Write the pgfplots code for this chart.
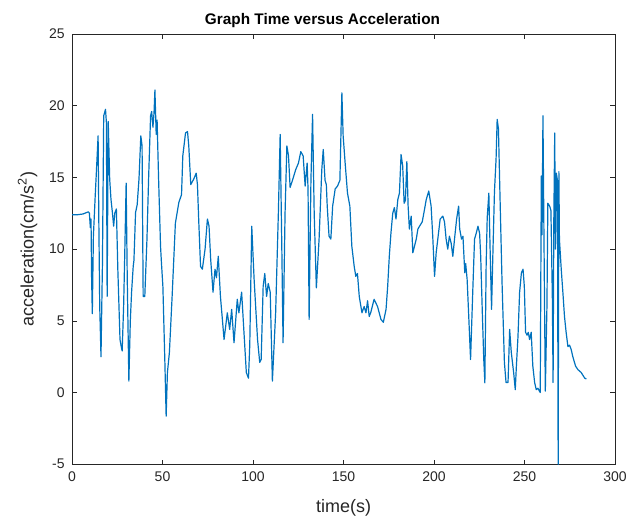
\documentclass[border=0pt]{standalone}
\usepackage{fontspec}
\setmainfont{Liberation Sans}
\usepackage{pgfplots}
\pgfplotsset{compat=1.18}
\definecolor{mblue}{RGB}{0,114,189}
\definecolor{axgray}{gray}{0.15}
\begin{document}
\begin{tikzpicture}
\path[use as bounding box] (-54pt,-41.25pt) rectangle (427.25pt,348pt);
\begin{axis}[
  at={(0,0)}, anchor=south west,
  scale only axis, width=407pt, height=322.5pt,
  xmin=0, xmax=300, ymin=-5, ymax=25,
  xtick={0,50,...,300}, ytick={-5,0,...,25},
  tick align=inside, major tick length=3.5pt,
  axis line style={axgray, line width=0.5pt},
  tick style={axgray, line width=0.5pt},
  /pgf/number format/assume math mode=true,
  ticklabel style={font=\fontsize{10.5}{12}\selectfont, text=axgray},
  xticklabel style={yshift=-2pt},
  yticklabel style={xshift=-2pt},
  title={\textbf{Graph Time versus Acceleration}},
  title style={font=\fontsize{11.5}{13}\selectfont, at={(axis description cs:0.5,1)}, anchor=center, yshift=4pt, xshift=-15.75pt},
  xlabel={time(s)}, ylabel={acceleration(cm/s\textsuperscript{2})},
  label style={font=\fontsize{13.5}{15}\selectfont, text=axgray},
  xlabel style={at={(axis description cs:0.5,0)}, anchor=center, yshift=-33pt},
  ylabel style={at={(axis description cs:-0.082,0.5)}, anchor=center},
  clip=true,
]
\addplot[mblue, line width=0.9pt, line join=round] coordinates {
(0,12.4) (3,12.4) (6,12.45) (9,12.6) (9.6,12.5) (10.1,11.5) (10.5,12.1) (10.8,8.1)
(11.2,5.5) (11.8,10.9) (12.3,12.3) (12.8,13.7) (13.5,15.5) (14.4,17.9) (14.8,12.0)
(15.3,6.0) (16.0,2.5) (16.8,9.0) (17.5,19.3) (18.5,19.75) (19.0,18.8) (19.4,6.7)
(20.0,18.9) (20.8,14.9) (21.5,13.5) (22.3,12.55) (23.0,11.6) (23.6,12.5) (24.5,12.8)
(25.3,8.6) (26.5,3.7) (27.2,3.2) (27.7,2.9) (28.5,6.0) (29.1,9.5) (29.9,14.6)
(30.5,8.0) (31.4,0.8) (32.2,5.0) (32.9,7.0) (33.8,8.8) (34.2,9.2) (35.1,12.55)
(36.0,13.1) (37.0,14.9) (38.0,17.9) (38.7,17.2) (39.3,6.7) (40.2,6.7) (41.4,10.7)
(42.3,14.9) (43.4,19.3) (44.0,19.6) (44.7,18.5) (45.3,19.5) (45.8,21.1) (46.5,18.0)
(47.0,19.0) (47.8,15.0) (48.9,10.2) (49.4,9.05) (50.2,7.4) (51.3,2.1) (52.0,-1.65)
(52.7,1.4) (53.8,2.8) (55.3,6.7) (57.1,11.8) (59.0,13.25) (60.5,13.8) (61.2,16.5)
(62.7,18.1) (63.8,18.2) (64.5,17.2) (65.6,14.5) (67.3,14.9) (68.6,15.3) (69.3,14.5)
(70.0,12.0) (71.0,8.8) (72.0,8.6) (73.5,10.0) (74.8,12.1) (75.7,11.6) (76.6,9.3)
(77.9,7.0) (79.0,8.6) (79.8,8.0) (80.8,9.5) (82.0,6.7) (84.0,3.7) (85.8,5.56)
(87.1,4.4) (88.2,5.8) (89.5,3.47) (91.3,6.5) (92.2,5.56) (93.7,7.0) (95.0,4.2)
(96.3,1.4) (97.5,1.0) (98.2,3.3) (99.3,11.6) (100.6,7.9) (102.5,3.7) (103.7,2.1)
(104.5,2.3) (105.6,7.4) (106.5,8.3) (107.5,6.7) (108.4,7.6) (109.5,7.0) (110.7,0.8)
(112.5,5.56) (114.0,12.5) (115.0,18.0) (115.9,10.2) (116.6,3.47) (117.7,12.5)
(118.7,17.2) (119.6,16.5) (120.5,14.3) (121.8,14.8) (123.6,15.55) (125.1,16.0)
(126.4,16.8) (127.7,16.5) (128.8,14.4) (129.9,16.0) (130.4,14.2) (131.0,5.1)
(132.0,14.8) (132.9,19.4) (133.8,12.5) (135.0,7.3) (136.5,10.7) (138.0,15.55)
(138.8,16.95) (139.8,14.8) (140.5,14.5) (141.0,13.0) (142.0,10.9) (143.0,10.7)
(144.0,13.0) (145.4,14.2) (146.7,14.4) (148.0,14.8) (149.1,20.9) (149.8,17.9)
(150.9,16.0) (152.2,13.9) (153.5,13.0) (154.6,10.2) (155.9,8.8) (156.8,8.1)
(157.7,8.3) (158.7,6.7) (160.2,5.56) (161.4,6.0) (162.4,5.56) (163.3,6.4)
(164.2,5.3) (165.1,5.6) (166.9,6.5) (168.8,6.0) (170.7,5.1) (172.0,4.9) (173.5,5.8)
(174.4,7.4) (175.3,9.5) (176.2,11.1) (177.2,12.5) (178.1,12.9) (179.0,12.1)
(180.0,13.45) (180.9,13.9) (181.8,16.6) (182.7,15.8) (183.5,13.2) (184.2,13.4)
(185.0,16.1) (185.7,13.0) (186.4,11.4) (187.4,12.3) (188.3,9.75) (189.2,10.2)
(190.2,10.7) (191.1,11.4) (192.0,11.6) (193.5,11.9) (194.8,12.8) (195.7,13.45)
(197.1,14.05) (198.4,13.0) (199.3,10.9) (200.3,8.1) (201.2,9.75) (202.1,10.7)
(203.4,12.1) (204.9,12.3) (205.8,11.9) (206.7,10.7) (207.6,10.0) (208.5,10.9)
(209.5,10.4) (210.4,9.5) (211.5,10.9) (212.5,12.1) (213.6,13.0) (214.2,11.4)
(215.2,10.7) (216.0,10.9) (217.0,8.35) (217.5,9.0) (218.3,7.9) (219.2,5.3)
(220.2,2.3) (221.4,7.0) (222.4,10.7) (223.3,11.1) (224.3,11.6) (225.2,11.1)
(225.8,9.5) (226.7,5.56) (227.5,2.3) (228.1,0.68) (228.8,8.8) (229.4,12.2)
(230.3,13.9) (231.0,10.0) (231.8,5.8) (232.5,9.5) (233.4,14.0) (234.3,16.3)
(234.9,19.05) (235.6,18.4) (236.5,13.5) (237.6,7.65) (238.9,2.1) (239.8,0.7)
(240.9,0.7) (241.8,4.4) (242.7,2.8) (244.0,1.4) (244.9,0.2) (245.5,1.8) (246.4,3.9)
(247.3,7.0) (248.3,8.35) (249.2,8.6) (249.9,7.4) (250.6,4.2) (251.4,4.0) (252.1,4.2)
(252.8,3.7) (253.7,4.2) (254.6,1.85) (255.6,0.7) (256.5,0.2) (257.4,0.3) (258.7,0.0)
(259.3,15.1) (259.7,11.0) (260.2,19.3) (260.8,10.2) (261.5,0.1) (262.4,6.0)
(262.9,13.2) (263.9,13.0) (264.6,12.7) (265.4,6.5) (265.8,0.7) (266.2,12.0)
(266.7,18.1) (267.1,10.0) (267.6,15.3) (268.2,14.8) (268.6,-5) (269.0,15.4)
(269.3,10.7) (270.3,8.6) (271.2,7.0) (272.1,5.3) (273.0,4.2) (274.0,3.2) (274.9,3.3)
(275.8,3.0) (276.7,2.5) (278.2,1.85) (279.5,1.6) (281.3,1.4) (283.3,1.0) (284.2,0.95)
};
\end{axis}
\end{tikzpicture}
\end{document}
